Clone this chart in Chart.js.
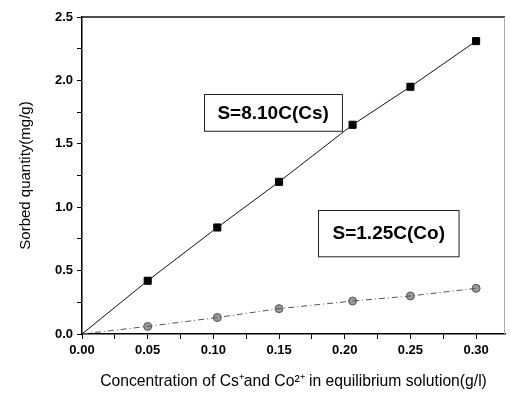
<!DOCTYPE html>
<html>
<head>
<meta charset="utf-8">
<script src="https://cdn.jsdelivr.net/npm/chart.js@4.4.1/dist/chart.umd.min.js"></script>
<style>
  html, body { margin: 0; padding: 0; background: #fff; }
  #wrap { width: 511px; height: 394px; position: relative; }
</style>
</head>
<body>
<div id="wrap"><canvas id="sorbChart"></canvas></div>
<script>
const csConc   = [0.05, 0.103, 0.15, 0.206, 0.25, 0.30];
const csSorbed = [0.42, 0.84, 1.20, 1.65, 1.95, 2.31];
const coConc   = [0.05, 0.103, 0.15, 0.206, 0.25, 0.30];
const coSorbed = [0.06, 0.13, 0.20, 0.26, 0.30, 0.36];

// Both connecting lines start at the origin
const originX = [0.0];
const originY = [0.0];

// Equation boxes: text and corners in data units
const eqLabels = ['S=8.10C(Cs)', 'S=1.25C(Co)'];
const eqBoxes = [
    { x0: 0.093, x1: 0.198, y0: 1.89, y1: 1.60 },
    { x0: 0.180, x1: 0.287, y0: 0.98, y1: 0.615 }
];

const xTitle = 'Concentration of Cs\u207Aand Co\u00B2\u207A in equilibrium solution(g/l)';
const yTitle = 'Sorbed quantity(mg/g)';

const toXY = (xs, ys) => xs.map((x, i) => ({ x: x, y: ys[i] }));
const FONT = "'Liberation Sans', Arial, sans-serif";

// Draws the frame (top + right) and the two equation boxes
const framePlugin = {
    id: 'frame',
    afterDatasetsDraw(chart) {
        const { ctx, chartArea: a, scales: { x, y } } = chart;
        ctx.save();
        ctx.strokeStyle = '#111';
        ctx.lineWidth = 1.5;
        ctx.beginPath();
        ctx.moveTo(a.left, a.top);
        ctx.lineTo(a.right, a.top);
        ctx.stroke();
        ctx.strokeStyle = '#aaa';
        ctx.lineWidth = 1;
        ctx.beginPath();
        ctx.moveTo(a.right - 0.5, a.top);
        ctx.lineTo(a.right - 0.5, a.bottom);
        ctx.stroke();

        eqBoxes.forEach((b, i) => {
            const l = x.getPixelForValue(b.x0), r = x.getPixelForValue(b.x1);
            const t = y.getPixelForValue(b.y0), btm = y.getPixelForValue(b.y1);
            ctx.fillStyle = '#fff';
            ctx.fillRect(l, t, r - l, btm - t);
            ctx.strokeStyle = '#222';
            ctx.lineWidth = 1;
            ctx.strokeRect(Math.round(l) + 0.5, Math.round(t) + 0.5, r - l, btm - t);
            ctx.fillStyle = '#000';
            ctx.font = "bold 19px 'Liberation Sans', Arial, sans-serif";
            ctx.textAlign = 'center';
            ctx.textBaseline = 'middle';
            ctx.fillText(eqLabels[i], (l + r) / 2, (t + btm) / 2 + 1);
        });
        ctx.restore();
    }
};

const ctx = document.getElementById('sorbChart').getContext('2d');
new Chart(ctx, {
    type: 'scatter',
    data: {
        datasets: [
            { type: 'line', data: toXY(originX.concat(csConc), originY.concat(csSorbed)), borderColor: '#111', borderWidth: 1, pointRadius: 0, fill: false },
            { type: 'line', data: toXY(originX.concat(coConc), originY.concat(coSorbed)), borderColor: '#555', borderWidth: 1, borderDash: [6, 3, 1, 3], pointRadius: 0, fill: false },
            { data: toXY(csConc, csSorbed), pointStyle: 'rect', pointRadius: 5, backgroundColor: '#000', borderColor: '#000', borderWidth: 1 },
            { data: toXY(coConc, coSorbed), pointStyle: 'circle', pointRadius: 4, backgroundColor: '#999', borderColor: '#555', borderWidth: 1 }
        ]
    },
    options: {
        responsive: true,
        maintainAspectRatio: false,
        animation: false,
        layout: { padding: { top: 17, right: 1, left: 0, bottom: 0 } },
        plugins: { legend: { display: false }, tooltip: { enabled: false } },
        scales: {
            x: {
                type: 'linear', min: 0, max: 0.322,
                afterFit: s => { s.height = 60; },
                border: { display: true, color: '#000', width: 1.5 },
                grid: { drawOnChartArea: false, color: '#000', tickLength: 5 },
                ticks: {
                    stepSize: 0.025, includeBounds: false, color: '#000', padding: 4, maxRotation: 0, autoSkip: false,
                    font: { family: FONT, size: 13, weight: 'bold' },
                    callback: v => (Math.abs(v / 0.05 - Math.round(v / 0.05)) < 1e-6 ? v.toFixed(2) : '')
                },
                title: { display: true, text: xTitle, color: '#000', font: { family: FONT, size: 15.7 }, padding: { top: 4, bottom: 3 } }
            },
            y: {
                type: 'linear', min: 0, max: 2.5,
                afterFit: s => { s.width = 82; },
                border: { display: true, color: '#000', width: 1.5 },
                grid: { drawOnChartArea: false, color: '#000', tickLength: 5 },
                ticks: {
                    stepSize: 0.25, includeBounds: false, color: '#000', padding: 4, autoSkip: false,
                    font: { family: FONT, size: 13, weight: 'bold' },
                    callback: v => (Math.abs(v / 0.5 - Math.round(v / 0.5)) < 1e-6 ? v.toFixed(1) : '')
                },
                title: { display: true, text: yTitle, color: '#000', font: { family: FONT, size: 15 }, padding: { top: 17, bottom: 4 } }
            }
        }
    },
    plugins: [framePlugin]
});
</script>
</body>
</html>
